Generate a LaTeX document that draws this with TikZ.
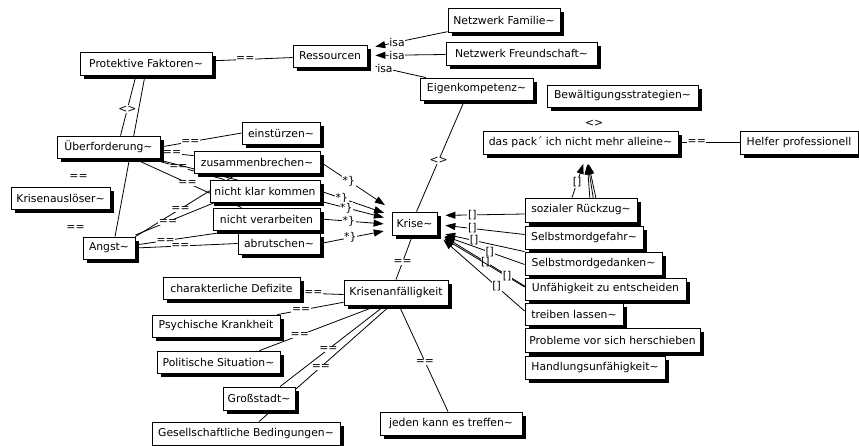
\documentclass[tikz,border=0pt]{standalone}
\usepackage{fontspec}
\setmainfont{DejaVu Sans}
\usetikzlibrary{shadows,backgrounds,arrows.meta}
\begin{document}
\begin{tikzpicture}[x=1pt,y=-1pt,
  box/.style={draw, line width=0.8pt, fill=white, inner sep=0pt, align=center,
    font=\fontsize{10.8}{12}\selectfont,
    drop shadow={shadow xshift=4pt,shadow yshift=-4pt,fill=black,opacity=1}},
  lbl/.style={fill=white, inner sep=0.6pt, font=\fontsize{10.8}{12}\selectfont},
  link/.style={line width=0.8pt},
  arr/.style={link, -{Triangle[length=10pt,width=7pt]}, shorten >=8pt}]
\useasboundingbox (0,0) rectangle (859,445);
% nodes
\node[box,minimum width=132pt,minimum height=23pt] (pf) at (146,63.5) {Protektive Faktoren\textasciitilde};
\node[box,minimum width=74pt,minimum height=22pt] (res) at (330,56) {Ressourcen};
\node[box,minimum width=112pt,minimum height=24pt] (nfam) at (504,20) {Netzwerk Familie\textasciitilde};
\node[box,minimum width=151pt,minimum height=23pt] (nfreu) at (521.5,53.5) {Netzwerk Freundschaft\textasciitilde};
\node[box,minimum width=113pt,minimum height=22pt] (eigen) at (476.5,89) {Eigenkompetenz\textasciitilde};
\node[box,minimum width=151pt,minimum height=22pt] (bew) at (622.5,96) {Bewältigungsstrategien\textasciitilde};
\node[box,minimum width=195pt,minimum height=23pt] (pack) at (580.5,142.5) {das pack´ ich nicht mehr alleine\textasciitilde};
\node[box,minimum width=118pt,minimum height=23pt] (helfer) at (799,142.5) {Helfer professionell};
\node[box,minimum width=103pt,minimum height=22pt] (ueber) at (108.5,147) {Überforderung\textasciitilde};
\node[box,minimum width=99pt,minimum height=22pt] (kausl) at (60.5,198) {Krisenauslöser\textasciitilde};
\node[box,minimum width=52pt,minimum height=22pt] (angst) at (109,248) {Angst\textasciitilde};
\node[box,minimum width=78pt,minimum height=22pt] (einst) at (281,133) {einstürzen\textasciitilde};
\node[box,minimum width=126pt,minimum height=22pt] (zus) at (257,162) {zusammenbrechen\textasciitilde};
\node[box,minimum width=110pt,minimum height=22pt] (nkk) at (265,191) {nicht klar kommen};
\node[box,minimum width=107pt,minimum height=22pt] (nver) at (266.5,219) {nicht verarbeiten};
\node[box,minimum width=82pt,minimum height=21pt] (abr) at (279,243.5) {abrutschen\textasciitilde};
\node[box,minimum width=45pt,minimum height=23pt] (krise) at (414.5,223.5) {Krise\textasciitilde};
\node[box,minimum width=112pt,minimum height=24pt] (sozial) at (581,210) {sozialer Rückzug\textasciitilde};
\node[box,minimum width=118pt,minimum height=23pt] (sgef) at (584,237.5) {Selbstmordgefahr\textasciitilde};
\node[box,minimum width=137pt,minimum height=23pt] (sged) at (593.5,263.5) {Selbstmordgedanken\textasciitilde};
\node[box,minimum width=161pt,minimum height=22pt] (unf) at (605.5,289) {Unfähigkeit zu entscheiden};
\node[box,minimum width=98pt,minimum height=22pt] (treib) at (574,314) {treiben lassen\textasciitilde};
\node[box,minimum width=175pt,minimum height=24pt] (probl) at (612.5,340) {Probleme vor sich herschieben};
\node[box,minimum width=140pt,minimum height=23pt] (handl) at (595,367.5) {Handlungsunfähigkeit\textasciitilde};
\node[box,minimum width=104pt,minimum height=25pt] (kanf) at (396,292.5) {Krisenanfälligkeit};
\node[box,minimum width=137pt,minimum height=22pt] (chara) at (231.5,288) {charakterliche Defizite};
\node[box,minimum width=128pt,minimum height=22pt] (psych) at (216,326) {Psychische Krankheit};
\node[box,minimum width=123pt,minimum height=22pt] (polit) at (218.5,362) {Politische Situation\textasciitilde};
\node[box,minimum width=72pt,minimum height=23pt] (gross) at (259,398.5) {Großstadt\textasciitilde};
\node[box,minimum width=188pt,minimum height=23pt] (gesell) at (246,433.5) {Gesellschaftliche Bedingungen\textasciitilde};
\node[box,minimum width=142pt,minimum height=23pt] (jeden) at (451,423.5) {jeden kann es treffen\textasciitilde};
% connectors
\begin{pgfonlayer}{background}
\draw[link] (pf) -- (res) node[lbl,pos=0.41] {==};
\draw[arr] (nfam) -- (res) node[lbl,pos=0.63] {isa};
\draw[arr] (nfreu) -- (res) node[lbl,pos=0.62] {isa};
\draw[arr] (eigen) -- (res) node[lbl,pos=0.7] {isa};
\draw[link] ([xshift=-10pt]pf.south) -- ([xshift=12pt]ueber.north) node[lbl,pos=0.56] {<>};
\draw[link] ([xshift=-1pt]pf.south) -- ([xshift=6pt]angst.north);
\path ([xshift=-30pt]ueber.south) -- ([xshift=18pt]kausl.north) node[lbl,pos=0.65] {==};
\path (kausl.south) -- (angst.north west) node[lbl,pos=0.68] {==};
\draw[link] (ueber.east) -- (einst.west) node[lbl,pos=0.37] {==};
\draw[link] (ueber) -- (zus) node[lbl,pos=0.35] {==};
\draw[link] (ueber) -- (nkk) node[lbl,pos=0.39] {==};
\draw[link] (ueber) -- (nver) node[lbl,pos=0.5] {==};
\draw[link] (angst.north east) -- ([xshift=-19pt]zus.south) node[lbl,pos=0.44] {==};
\draw[link] ([yshift=13pt]angst.east) -- ([xshift=-50pt]nkk.south) node[lbl,pos=0.41] {==};
\draw[link] ([yshift=3pt]angst.east) -- ([xshift=-30.5pt]nver.south) node[lbl,pos=0.3] {==};
\draw[link] (angst.east) -- (abr.west) node[lbl,pos=0.44] {==};
% into Krise from the left
\draw[arr] (zus.east) -- ([yshift=14pt]krise.west) node[lbl,pos=0.4] {*\}};
\draw[arr] (nkk.east) -- ([yshift=8pt]krise.west) node[lbl,pos=0.3] {*\}};
\draw[arr] (ueber) -- ([yshift=4pt]krise.west) node[lbl,pos=0.81] {*\}};
\draw[arr] (nver.east) -- ([yshift=-1pt]krise.west) node[lbl,pos=0.4] {*\}};
\draw[arr] (abr.east) -- ([yshift=-6pt]krise.west) node[lbl,pos=0.42] {*\}};
% into Krise from the right
\draw[arr] ([yshift=-4pt]sozial.west) -- ([yshift=8pt]krise.east) node[lbl,pos=0.6] {[]};
\draw[arr] ([yshift=3pt]sgef.west) -- ([yshift=-1pt]krise.east) node[lbl,pos=0.6] {[]};
\draw[arr] (sged.north west) -- ([yshift=-9pt]krise.east) node[lbl,pos=0.58] {[]};
\draw[arr] ([yshift=-1pt]sged.west) -- ([yshift=-10pt]krise.east) node[lbl,pos=0.4] {[]};
\draw[arr] (probl) -- ([yshift=-9pt]krise.east) node[lbl,pos=0.69] {[]};
\draw[arr] ([yshift=2pt]unf.west) -- ([yshift=-11pt]krise.east) node[lbl,pos=0.2] {[]};
\draw[arr] ([yshift=3pt]treib.west) -- ([yshift=-11pt]krise.east) node[lbl,pos=0.32] {[]};
% into das pack
\draw[arr,shorten >=10pt] ([xshift=-9pt]sozial.north) -- ([xshift=6pt]pack.south) node[lbl,pos=0.35] {[]};
\draw[arr,shorten >=10pt] ([xshift=8pt]sgef.north) -- ([xshift=6pt]pack.south);
\draw[arr,shorten >=10pt] ([xshift=14pt]sged.north) -- ([xshift=6pt]pack.south);
\draw[arr,shorten >=10pt] (unf.north) -- ([xshift=6pt]pack.south);
% others
\draw[link] ([xshift=-12pt]eigen.south) -- ([xshift=2pt]krise.north) node[lbl,pos=0.54] {<>};
\path ([xshift=-20pt]bew.south) -- ([xshift=10pt]pack.north) node[lbl,pos=0.7] {<>};
\draw[link] (pack.east) -- (helfer.west) node[lbl,pos=0.3] {==};
\draw[link] ([xshift=-2pt]krise.south) -- (kanf.north) node[lbl,pos=0.6] {==};
\draw[link] ([yshift=-2pt]kanf.west) -- ([yshift=-5pt]chara.east) node[lbl,pos=0.7] {==};
\draw[link] (kanf) -- (psych) node[lbl,pos=0.64] {==};
\draw[link] ([xshift=-18pt]kanf.south) -- ([xshift=41pt]polit.north) node[lbl,pos=0.66] {==};
\draw[link] ([xshift=-11pt]kanf.south) -- ([xshift=21pt]gross.north) node[lbl,pos=0.54] {==};
\draw[link] ([xshift=-5.5pt]kanf.south) -- ([xshift=13pt]gesell.north) node[lbl,pos=0.53] {==};
\draw[link] ([xshift=3pt]kanf.south) -- ([xshift=-3pt]jeden.north) node[lbl,pos=0.53] {==};
\end{pgfonlayer}
\end{tikzpicture}
\end{document}
